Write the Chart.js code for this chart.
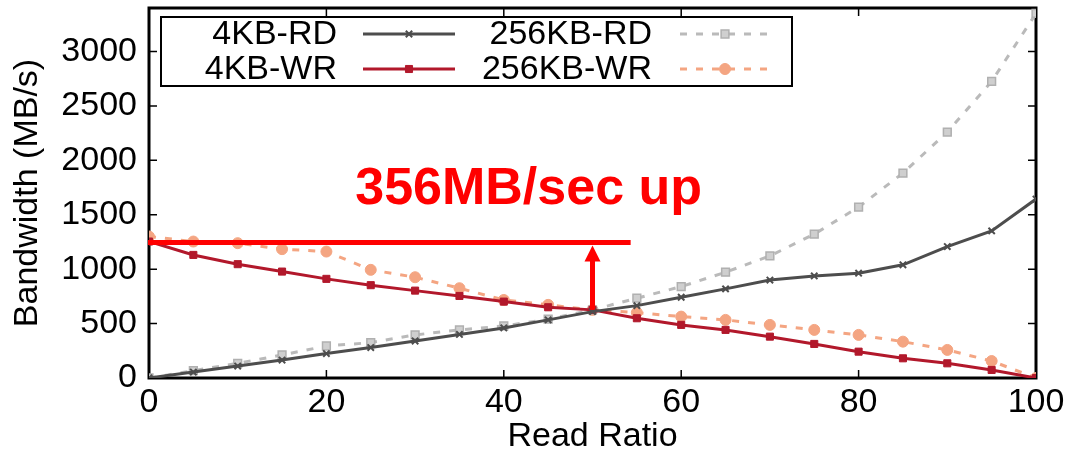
<!DOCTYPE html>
<html>
<head>
<meta charset="utf-8">
<script src="https://cdn.jsdelivr.net/npm/chart.js@4/dist/chart.umd.min.js"></script>
<style>
  html, body { margin: 0; padding: 0; background: #fff; }
  #wrap { width: 1073px; height: 459px; position: relative; }
</style>
</head>
<body>
<div id="wrap"><canvas id="bwChart"></canvas></div>
<script>
// read ratio (%) on the x axis
const readRatio = [0, 5, 10, 15, 20, 25, 30, 35, 40, 45, 50, 55, 60, 65, 70, 75, 80, 85, 90, 95, 100];

// bandwidth in MB/s
const rd4k   = [0, 55, 110, 165, 225, 280, 340, 400, 460, 534, 610, 665, 742, 819, 900, 938, 963, 1040, 1208, 1352, 1644];
const wr4k   = [1254, 1131, 1046, 978, 911, 853, 803, 754, 702, 650, 626, 549, 488, 442, 380, 313, 242, 181, 135, 74, 0];
const rd256k = [0, 67, 135, 212, 294, 325, 396, 442, 478, 540, 626, 733, 840, 972, 1122, 1322, 1570, 1883, 2260, 2726, 3350];
const wr256k = [1300, 1254, 1239, 1184, 1162, 994, 926, 825, 717, 672, 626, 601, 564, 534, 488, 442, 396, 334, 258, 156, 0];

const seriesNames = ['4KB-RD', '4KB-WR', '256KB-RD', '256KB-WR'];
const xTicks = [0, 20, 40, 60, 80, 100];
const yTicks = [0, 500, 1000, 1500, 2000, 2500, 3000];

// annotation values
const baseLevel = 1245;      // red reference line
const baseLineEnd = 54.3;    // where the red line stops (read ratio)
const arrowAt = 50;
const arrowFrom = 626;
const noteText = '356MB/sec up';

const toPoints = ys => readRatio.map((x, i) => ({ x: x, y: ys[i] }));

const FONT = '"Liberation Sans", Arial, Helvetica, sans-serif';

// frame with inward ticks, gnuplot style
const framePlugin = {
    id: 'frame',
    beforeDatasetsDraw(chart) {
        const { ctx, chartArea: a, scales: { x, y } } = chart;
        ctx.save();
        ctx.strokeStyle = '#000';
        ctx.lineWidth = 1.5;
        xTicks.forEach(v => {
            const px = x.getPixelForValue(v);
            ctx.beginPath();
            ctx.moveTo(px, a.bottom); ctx.lineTo(px, a.bottom - 8);
            ctx.moveTo(px, a.top); ctx.lineTo(px, a.top + 8);
            ctx.stroke();
        });
        yTicks.forEach(v => {
            const py = y.getPixelForValue(v);
            ctx.beginPath();
            ctx.moveTo(a.left, py); ctx.lineTo(a.left + 8, py);
            ctx.moveTo(a.right, py); ctx.lineTo(a.right - 8, py);
            ctx.stroke();
        });
        ctx.lineWidth = 3;
        ctx.strokeRect(a.left, a.top, a.right - a.left, a.bottom - a.top);
        ctx.restore();
    }
};

// legend box + red annotation
const overlayPlugin = {
    id: 'overlay',
    afterDatasetsDraw(chart) {
        const { ctx, scales: { x, y } } = chart;
        ctx.save();

        // legend
        ctx.fillStyle = '#fff';
        ctx.fillRect(161, 17, 631, 69);
        ctx.strokeStyle = '#000';
        ctx.lineWidth = 2;
        ctx.strokeRect(161, 17, 631, 69);

        const cols = [
            { textRight: 337, x0: 363, x1: 455 },
            { textRight: 652, x0: 680, x1: 770 }
        ];
        const rows = [34, 69];
        ctx.font = '34px ' + FONT;
        ctx.textAlign = 'right';
        ctx.textBaseline = 'middle';
        chart.data.datasets.forEach((ds, i) => {
            const c = cols[Math.floor(i / 2)];
            const ry = rows[i % 2];
            ctx.fillStyle = '#000';
            ctx.fillText(ds.label, c.textRight, ry + 1);
            ctx.strokeStyle = ds.borderColor;
            ctx.lineWidth = ds.borderWidth;
            ctx.setLineDash(ds.borderDash || []);
            ctx.beginPath();
            ctx.moveTo(c.x0, ry); ctx.lineTo(c.x1, ry);
            ctx.stroke();
            ctx.setLineDash([]);
            ctx.fillStyle = ds.pointBackgroundColor;
            ctx.strokeStyle = ds.pointBorderColor;
            ctx.lineWidth = ds.pointBorderWidth || 1;
            Chart.helpers.drawPoint(ctx, {
                pointStyle: ds.pointStyle,
                radius: ds.pointRadius,
                rotation: 0,
                borderWidth: ds.pointBorderWidth || 1
            }, (c.x0 + c.x1) / 2, ry);
        });

        // red reference line
        const ly = y.getPixelForValue(baseLevel);
        ctx.strokeStyle = '#ff0000';
        ctx.lineWidth = 5;
        ctx.beginPath();
        ctx.moveTo(x.getPixelForValue(0) - 1, ly);
        ctx.lineTo(x.getPixelForValue(baseLineEnd), ly);
        ctx.stroke();

        // arrow
        const ax = x.getPixelForValue(arrowAt);
        const ay0 = y.getPixelForValue(arrowFrom);
        const tip = ly + 3;
        ctx.lineWidth = 5;
        ctx.beginPath();
        ctx.moveTo(ax, ay0); ctx.lineTo(ax, tip + 14);
        ctx.stroke();
        ctx.fillStyle = '#ff0000';
        ctx.beginPath();
        ctx.moveTo(ax, tip);
        ctx.lineTo(ax - 8, tip + 16);
        ctx.lineTo(ax + 8, tip + 16);
        ctx.closePath();
        ctx.fill();

        // label
        ctx.font = 'bold 52px ' + FONT;
        ctx.textAlign = 'center';
        ctx.textBaseline = 'alphabetic';
        ctx.fillText(noteText, x.getPixelForValue(42.8), y.getPixelForValue(1600));

        ctx.restore();
    }
};

const ctx = document.getElementById('bwChart').getContext('2d');
new Chart(ctx, {
    type: 'line',
    data: {
        datasets: [
            {
                label: seriesNames[0],
                data: toPoints(rd4k),
                borderColor: '#4d4d4d',
                borderWidth: 3,
                pointStyle: 'crossRot',
                pointRadius: 4.5,
                pointBorderWidth: 2,
                pointBackgroundColor: '#4d4d4d',
                pointBorderColor: '#4d4d4d'
            },
            {
                label: seriesNames[1],
                data: toPoints(wr4k),
                borderColor: '#b2182b',
                borderWidth: 3,
                pointStyle: 'rect',
                pointRadius: 5,
                pointBorderWidth: 1,
                pointBackgroundColor: '#b2182b',
                pointBorderColor: '#b2182b'
            },
            {
                label: seriesNames[2],
                data: toPoints(rd256k),
                borderColor: '#bababa',
                borderWidth: 3,
                borderDash: [7, 9],
                pointStyle: 'rect',
                pointRadius: 5.5,
                pointBorderWidth: 1.5,
                pointBackgroundColor: '#cfcfcf',
                pointBorderColor: '#b0b0b0'
            },
            {
                label: seriesNames[3],
                data: toPoints(wr256k),
                borderColor: '#f4a582',
                borderWidth: 3,
                borderDash: [7, 9],
                pointStyle: 'circle',
                pointRadius: 5.5,
                pointBorderWidth: 1,
                pointBackgroundColor: '#f4a582',
                pointBorderColor: '#f4a582'
            }
        ]
    },
    options: {
        responsive: true,
        maintainAspectRatio: false,
        animation: false,
        layout: { padding: { top: 8, right: 37, left: 0, bottom: 0 } },
        plugins: { legend: { display: false }, tooltip: { enabled: false } },
        elements: { line: { tension: 0 } },
        scales: {
            x: {
                type: 'linear',
                min: 0,
                max: 100,
                ticks: { stepSize: 20, autoSkip: false, maxRotation: 0, color: '#000', padding: 8, font: { family: FONT, size: 34, lineHeight: 1 } },
                grid: { display: false, drawTicks: false, tickLength: 0 },
                border: { display: false },
                title: { display: true, text: 'Read Ratio', color: '#000', padding: { bottom: 5, top: 0 }, font: { family: FONT, size: 34, lineHeight: 1 } },
                afterFit(s) { s.height = 81; s.paddingLeft = 0; s.paddingRight = 0; }
            },
            y: {
                min: 0,
                max: 3400,
                ticks: {
                    stepSize: 100,
                    autoSkip: false,
                    color: '#000',
                    padding: 12,
                    font: { family: FONT, size: 34, lineHeight: 1 },
                    callback: v => (v % 500 === 0 && v <= 3000) ? String(v) : ''
                },
                grid: { display: false, drawTicks: false, tickLength: 0 },
                border: { display: false },
                title: { display: true, text: 'Bandwidth (MB/s)', color: '#000', padding: { top: 11, bottom: 0 }, font: { family: FONT, size: 34, lineHeight: 1 } },
                afterFit(s) { s.width = 149; s.paddingTop = 0; s.paddingBottom = 0; }
            }
        }
    },
    plugins: [framePlugin, overlayPlugin]
});
</script>
</body>
</html>
